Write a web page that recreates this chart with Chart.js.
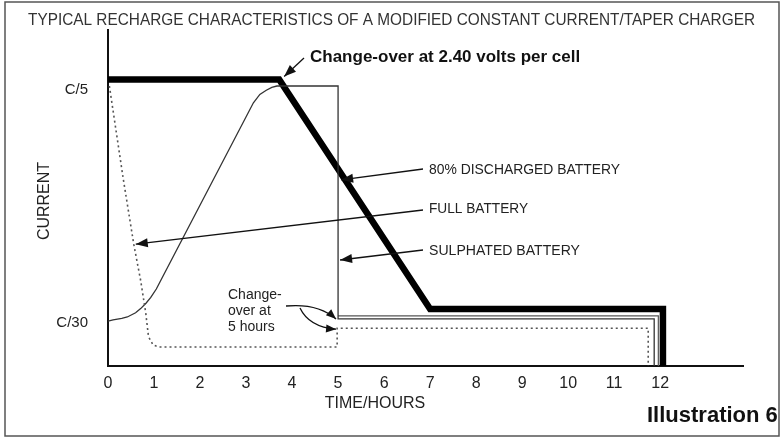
<!DOCTYPE html>
<html>
<head>
<meta charset="utf-8">
<script src="https://cdn.jsdelivr.net/npm/chart.js@4/dist/chart.umd.min.js"></script>
<style>
  html, body { margin: 0; padding: 0; background: #ffffff; }
  #wrap { width: 783px; height: 439px; position: relative; }
</style>
</head>
<body>
<div id="wrap"><canvas id="c" width="783" height="439"></canvas></div>
<script>
// ---- DATA (hours on x, current as a fraction of C on y) ----
const xTickValues = [0, 1, 2, 3, 4, 5, 6, 7, 8, 9, 10, 11, 12];
const yTickValues = [1 / 30, 1 / 5];
const yTickLabels = ['C/30', 'C/5'];

// thick line: 80% discharged battery
const dischargedHours   = [0, 3.72, 7.0, 12.06, 12.06];
const dischargedCurrent = [0.2046, 0.2046, 0.0407, 0.0407, 0];

// thin line: S-shaped start, change-over at 5 hours (sulphated battery)
const sulphatedHours   = [0, 0.11, 0.3, 0.42, 0.6, 0.71, 0.83, 0.93, 1.05, 1.16, 3.16, 3.3, 3.44, 3.56, 3.67, 5.0, 5.0, 11.87, 11.87];
const sulphatedCurrent = [0.032, 0.033, 0.034, 0.035, 0.038, 0.041, 0.045, 0.049, 0.055, 0.062, 0.188, 0.194, 0.197, 0.199, 0.2, 0.2, 0.0336, 0.0336, 0];

// thin line running just inside the thick line at the finish
const tailHours   = [5.0, 11.96, 11.96];
const tailCurrent = [0.0358, 0.0358, 0];

// dotted line: full battery
const fullHours   = [0.03, 0.33, 0.56, 0.71, 0.82, 0.88, 0.98, 1.1, 4.98, 4.98, 11.74, 11.74];
const fullCurrent = [0.2, 0.134, 0.087, 0.061, 0.038, 0.021, 0.015, 0.0136, 0.0136, 0.027, 0.027, 0];

const zip = (xs, ys) => xs.map((x, i) => ({ x: x, y: ys[i] }));

const FONT = '"Liberation Sans", Arial, Helvetica, sans-serif';

function arrowHead(ctx, fromX, fromY, tipX, tipY, len, half) {
  const a = Math.atan2(tipY - fromY, tipX - fromX);
  ctx.beginPath();
  ctx.moveTo(tipX, tipY);
  ctx.lineTo(tipX - len * Math.cos(a) + half * Math.sin(a), tipY - len * Math.sin(a) - half * Math.cos(a));
  ctx.lineTo(tipX - len * Math.cos(a) - half * Math.sin(a), tipY - len * Math.sin(a) + half * Math.cos(a));
  ctx.closePath();
  ctx.fill();
}
function straightArrow(ctx, x1, y1, x2, y2) {
  ctx.beginPath();
  ctx.moveTo(x1, y1);
  ctx.lineTo(x2, y2);
  ctx.stroke();
  arrowHead(ctx, x1, y1, x2, y2, 12, 4.5);
}
function curvedArrow(ctx, x1, y1, cx, cy, x2, y2) {
  ctx.beginPath();
  ctx.moveTo(x1, y1);
  ctx.quadraticCurveTo(cx, cy, x2, y2);
  ctx.stroke();
  arrowHead(ctx, cx, cy, x2, y2, 10, 4);
}
function interpX(hours, current, value, from, to) {
  const x1 = hours[from], y1 = current[from], x2 = hours[to], y2 = current[to];
  return x1 + (value - y1) / (y2 - y1) * (x2 - x1);
}

const annotations = {
  id: 'annotations',
  beforeDraw(chart) {
    const ctx = chart.ctx;
    ctx.save();
    ctx.fillStyle = '#ffffff';
    ctx.fillRect(0, 0, chart.width, chart.height);
    ctx.restore();
  },
  afterDraw(chart) {
    const ctx = chart.ctx;
    const xs = chart.scales.x, ys = chart.scales.y;
    ctx.save();

    // frame
    ctx.strokeStyle = '#555';
    ctx.lineWidth = 1.5;
    ctx.strokeRect(5, 2, 774, 434);

    // title
    ctx.fillStyle = '#333';
    ctx.textBaseline = 'middle';
    ctx.textAlign = 'left';
    ctx.font = '17px ' + FONT;
    ctx.fillText('TYPICAL RECHARGE CHARACTERISTICS OF A MODIFIED CONSTANT CURRENT/TAPER CHARGER', 28, 20, 727);

    // axis titles
    ctx.fillStyle = '#222';
    ctx.font = '16px ' + FONT;
    ctx.textAlign = 'center';
    ctx.fillText('TIME/HOURS', 375, 404, 104);
    ctx.save();
    ctx.translate(45, 201);
    ctx.rotate(-Math.PI / 2);
    ctx.fillText('CURRENT', 0, 0, 84);
    ctx.restore();

    // bold notes
    ctx.textAlign = 'left';
    ctx.fillStyle = '#111';
    ctx.font = 'bold 17px ' + FONT;
    ctx.fillText('Change-over at 2.40 volts per cell', 310, 57, 272);
    ctx.font = 'bold 22px ' + FONT;
    ctx.fillText('Illustration 6', 647, 416, 131);

    // battery labels
    ctx.fillStyle = '#222';
    ctx.font = '15px ' + FONT;
    ctx.fillText('80% DISCHARGED BATTERY', 429, 170, 191);
    ctx.fillText('FULL BATTERY', 429, 209, 99);
    ctx.fillText('SULPHATED BATTERY', 429, 251, 151);

    // small note
    ctx.font = '14px ' + FONT;
    ctx.fillStyle = '#222';
    ctx.fillText('Change-', 228, 295);
    ctx.fillText('over at', 228, 311);
    ctx.fillText('5 hours', 228, 327);

    // arrows
    ctx.strokeStyle = '#111';
    ctx.fillStyle = '#111';
    ctx.lineWidth = 1.3;
    const cX = xs.getPixelForValue(dischargedHours[1]) + 5;
    const cY = ys.getPixelForValue(dischargedCurrent[1]) - 3;
    straightArrow(ctx, 304, 58, cX, cY);
    const v80 = 0.133;
    const h80 = interpX(dischargedHours, dischargedCurrent, v80, 1, 2);
    straightArrow(ctx, 423, 169, xs.getPixelForValue(h80) - 4, ys.getPixelForValue(v80));
    straightArrow(ctx, 423, 210, xs.getPixelForValue(fullHours[2]) + 2, ys.getPixelForValue(fullCurrent[2]));
    straightArrow(ctx, 423, 250, xs.getPixelForValue(sulphatedHours[15]) + 2, ys.getPixelForValue(0.0757));
    const x5 = xs.getPixelForValue(5) - 2;
    curvedArrow(ctx, 286, 306, 318, 303, x5, ys.getPixelForValue(sulphatedCurrent[16]));
    curvedArrow(ctx, 300, 308, 309, 327, x5, ys.getPixelForValue(fullCurrent[9]) + 1);

    ctx.restore();
  }
};

new Chart(document.getElementById('c'), {
  type: 'line',
  data: {
    datasets: [
      {
        label: 'Full battery',
        data: zip(fullHours, fullCurrent),
        borderColor: '#555',
        borderWidth: 1.6,
        borderDash: [2, 3],
        fill: false, pointRadius: 0, tension: 0
      },
      {
        label: 'Sulphated battery',
        data: zip(sulphatedHours, sulphatedCurrent),
        borderColor: '#333',
        borderWidth: 1.3,
        fill: false, pointRadius: 0, tension: 0
      },
      {
        label: 'Finish',
        data: zip(tailHours, tailCurrent),
        borderColor: '#555',
        borderWidth: 1.2,
        fill: false, pointRadius: 0, tension: 0
      },
      {
        label: '80% discharged battery',
        data: zip(dischargedHours, dischargedCurrent),
        borderColor: '#000',
        borderWidth: 6.5,
        borderJoinStyle: 'miter',
        borderCapStyle: 'butt',
        fill: false, pointRadius: 0, tension: 0
      }
    ]
  },
  options: {
    responsive: false,
    animation: false,
    devicePixelRatio: 1,
    layout: { padding: { left: 0, top: 30, right: 40, bottom: 0 } },
    plugins: { legend: { display: false }, tooltip: { enabled: false }, title: { display: false } },
    elements: { point: { radius: 0 } },
    scales: {
      x: {
        type: 'linear',
        min: 0,
        max: 13.8,
        afterBuildTicks: s => { s.ticks = xTickValues.map(v => ({ value: v })); },
        afterFit: s => { s.height = 73; },
        ticks: {
          color: '#222',
          font: { family: FONT, size: 16 },
          padding: 8,
          maxRotation: 0,
          autoSkip: false,
          callback: v => String(v)
        },
        grid: { display: false, drawTicks: false },
        border: { display: true, color: '#111', width: 2 }
      },
      y: {
        type: 'linear',
        min: 0,
        max: 0.24,
        afterBuildTicks: s => { s.ticks = yTickValues.map(v => ({ value: v })); },
        afterFit: s => { s.width = 108; },
        ticks: {
          color: '#222',
          font: { family: FONT, size: 15 },
          padding: 20,
          labelOffset: 4,
          autoSkip: false,
          callback: (v, i) => yTickLabels[i]
        },
        grid: { display: false, drawTicks: false },
        border: { display: true, color: '#111', width: 2 }
      }
    }
  },
  plugins: [annotations]
});
</script>
</body>
</html>
